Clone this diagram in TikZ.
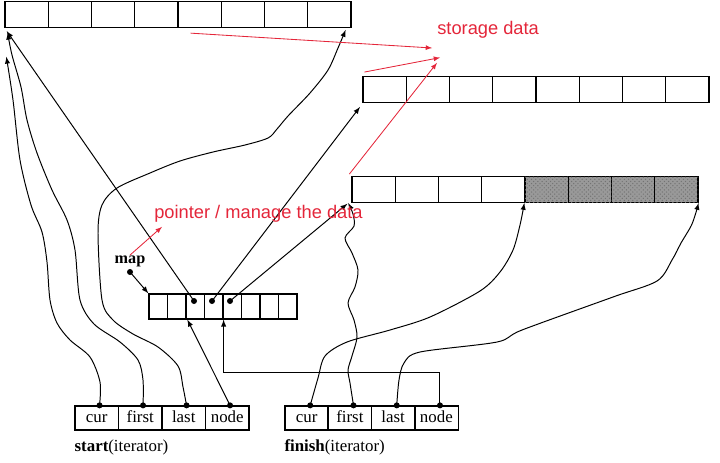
\documentclass[tikz,border=0pt]{standalone}
\usepackage{fontspec}
\setmainfont{Liberation Serif}
\newfontfamily\notefont{Liberation Sans}
\usepackage{xcolor}
\usetikzlibrary{positioning}
\usetikzlibrary{patterns}
\usetikzlibrary{calc}
\definecolor{notered}{RGB}{228,38,58}

\begin{document}
\begin{tikzpicture}[x = 0.025cm, y = -0.025cm,
		cell/.style = {draw, line width = 0.9pt, inner sep = 0pt, minimum width = 1.08125cm, minimum height = 0.64cm},
		mapcell/.style = {draw, line width = 0.9pt, inner sep = 0pt, minimum width = 0.4625cm, minimum height = 0.625cm},
		itcell/.style = {draw, line width = 0.9pt, inner sep = 0pt, minimum width = 1.0875cm, minimum height = 0.6cm, text height = 1.5ex, text depth = 0.25ex, font = \fontsize{12}{14}\selectfont},
		shaded/.style = {fill = black!40, postaction = {pattern = crosshatch dots, pattern color = black!55}},
		ptr/.style = {circle, fill, inner sep = 0pt, minimum size = 0.15cm},
		note/.style = {text = notered, inner sep = 0pt, font = \notefont\fontsize{13}{15}\selectfont},
		link/.style = {line width = 0.7pt, -latex},
		redlink/.style = {notered, line width = 0.6pt, -latex}]
		\useasboundingbox (0, 0) rectangle (720, 462);

		% three storage buffers
		\foreach \i in {1,...,8}
			\node (top\i) [cell] at ({5 + 43.25*(\i - 0.5)}, 14.5) {};
		\foreach \i in {1,...,8}
			\node (mid\i) [cell] at ({363 + 43.25*(\i - 0.5)}, 89.5) {};
		\foreach \i in {1,...,4}
			\node (low\i) [cell] at ({352 + 43.25*(\i - 0.5)}, 189.5) {};
		\foreach \i in {5,...,8}
			\node (low\i) [cell, shaded] at ({352 + 43.25*(\i - 0.5)}, 189.5) {};

		% map
		\foreach \i in {1,...,8}
			\node (map\i) [mapcell] at ({149 + 18.5*(\i - 0.5)}, 306.5) {};
		\node (mapptr) [ptr] at (130, 272) {};
		\node (maplbl) [above = 0.05cm of mapptr, inner sep = 0pt, font = \bfseries\fontsize{11.5}{13}\selectfont] {map};
		\node (mapptr3) [ptr] at (194, 301) {};
		\node (mapptr4) [ptr] at (212, 301) {};
		\node (mapptr5) [ptr] at (230, 301) {};

		% iterators
		\foreach \i/\t in {1/cur, 2/first, 3/last, 4/node} {
			\node (start\i) [itcell] at ({75 + 43.5*(\i - 0.5)}, 418) {\t};
			\node (finish\i) [itcell] at ({285 + 43.25*(\i - 0.5)}, 418) {\t};
			\node (sptr\i) [ptr] at ([xshift = 0.07cm] start\i.north) {};
			\node (fptr\i) [ptr] at ([xshift = 0.09cm] finish\i.north) {};
		}
		\node (startlbl) [anchor = west, inner sep = 0pt, font = \fontsize{12}{14}\selectfont] at ([yshift = -0.43cm] start1.south west) {\textbf{start}(iterator)};
		\node (finishlbl) [anchor = west, inner sep = 0pt, font = \fontsize{12}{14}\selectfont] at ([yshift = -0.43cm] finish1.south west) {\textbf{finish}(iterator)};

		% map pointers
		\draw [link] (mapptr.center) -- (map1.north west);
		\draw [link] (mapptr3.center) -- ([shift = {(0.06cm, -0.08cm)}] top1.south west);
		\draw [link] (mapptr4.center) -- ([shift = {(-0.06cm, -0.1cm)}] mid1.south west);
		\draw [link] (mapptr5.center) -- ([shift = {(-0.1cm, -0.02cm)}] low1.south west);

		% start iterator
		\coordinate (curend) at ([shift = {(0.05cm, -0.72cm)}] top1.south west);
		\draw [link] plot [smooth] coordinates {(sptr1.center) (100, 382) (90, 357) (70, 340) (57, 323) (50, 300) (47, 262) (42, 232) (31, 205) (20, 160) (13, 100) (curend)};
		\draw [link] plot [smooth] coordinates {(sptr2.center) (143, 380) (138, 360) (120, 342) (94, 324) (80, 300) (75, 250) (67, 220) (52, 190) (37, 153) (27, 120) (21, 87) (12, 55) ([shift = {(0.08cm, -0.12cm)}] top1.south west)};
		\draw [link] plot [smooth] coordinates {(sptr3.center) (183, 387) (178, 366) (158, 347) (133, 334) (113, 320) (102, 300) (98, 233) (102, 205) (117, 188) (150, 173) (180, 161) (213, 152) (245, 145) (268, 138) (277, 129) (288, 116) (310, 93) (328, 70) (338, 48) ([shift = {(-0.15cm, -0.05cm)}] top8.south east)};
		\draw [link] (sptr4.center) -- ([xshift = 0.05cm] map3.south west);

		% finish iterator
		\draw [link] plot [smooth] coordinates {(fptr1.center) (318, 378) (325, 356) (347, 342) (390, 330) (430, 317) (480, 291) (500, 272) (513, 250) (520, 225) (low5.south west)};
		\draw [link] plot [smooth] coordinates {(fptr2.center) (350, 383) (348, 370) (352, 356) (357, 337) (354, 320) (348, 303) (355, 287) (358, 270) (352, 253) (345, 238) (354, 226) (353, 214) ([xshift = -0.08cm] low1.south west)};
		\draw [link] plot [smooth] coordinates {(fptr3.center) (399, 380) (404, 363) (420, 352) (497, 342) (522, 330) (613, 297) (657, 281) (672, 260) (681, 243) (692, 224) (low8.south east)};
		\draw [link] (fptr4.center) -- +(0, -33) -| (map4.south east);

		% notes
		\node (storage) [note, anchor = west] at (437, 30) {storage data};
		\node (pointer) [note, anchor = west] at (154, 214) {pointer / manage the data};
		\draw [redlink] ([shift = {(0.3cm, -0.13cm)}] top4.south east) -- ([shift = {(-0.12cm, -0.23cm)}] storage.south west);
		\draw [redlink] ([shift = {(0.05cm, 0.1cm)}] mid1.north west) -- ([shift = {(0.08cm, -0.47cm)}] storage.south west);
		\draw [redlink] ([shift = {(-0.05cm, 0.05cm)}] low1.north west) -- ([shift = {(0cm, -0.6cm)}] storage.south west);
		\draw [redlink] (maplbl.north) -- ([shift = {(0.2cm, -0.1cm)}] pointer.south west);
	\end{tikzpicture}
\end{document}
